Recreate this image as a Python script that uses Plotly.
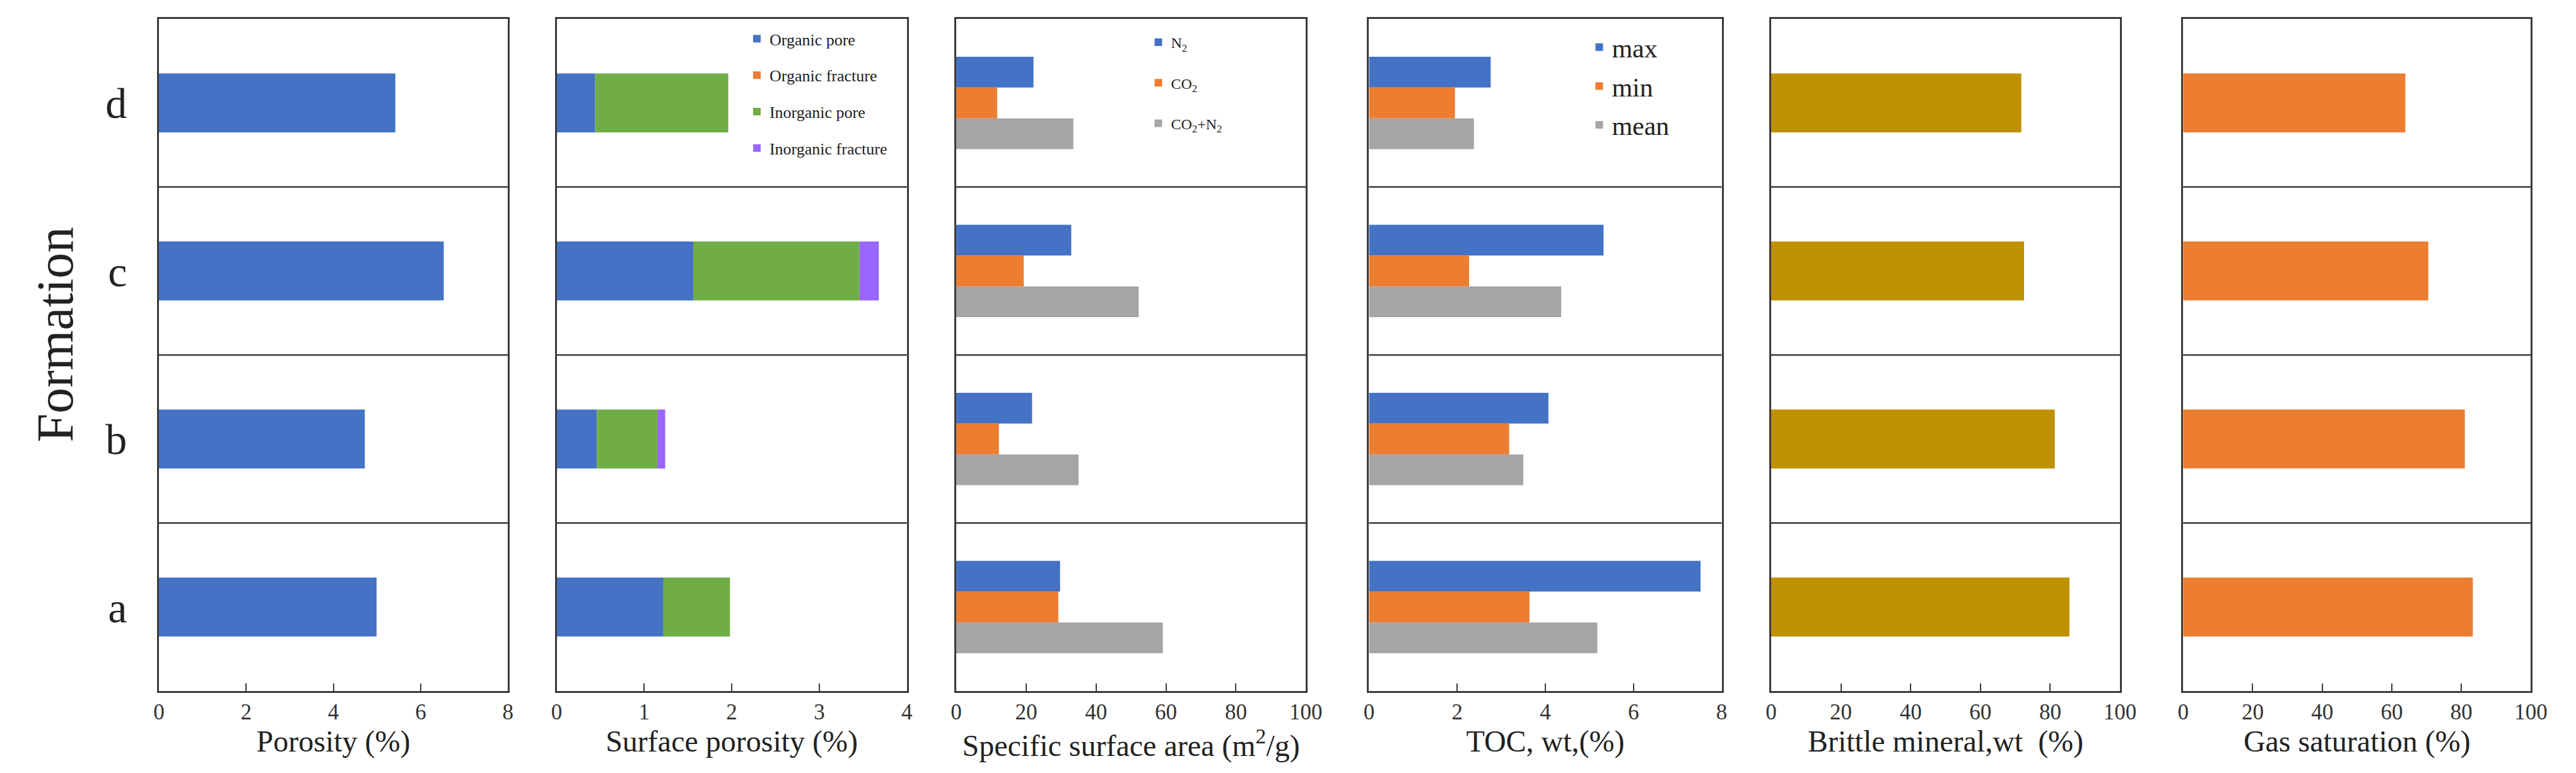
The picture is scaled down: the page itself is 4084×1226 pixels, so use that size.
import numpy as np
import plotly.graph_objects as go

# formations, bottom to top
formations = ['a', 'b', 'c', 'd']

porosity = [4.99, 4.72, 6.53, 5.42]

organic_pore = [1.22, 0.46, 1.56, 0.44]
organic_fracture = [0.0, 0.0, 0.0, 0.0]
inorganic_pore = [0.76, 0.69, 1.90, 1.52]
inorganic_fracture = [0.0, 0.09, 0.22, 0.0]

ssa_n2 = [29.7, 21.7, 32.9, 22.1]
ssa_co2 = [29.2, 12.2, 19.3, 11.7]
ssa_co2_n2 = [59.1, 35.0, 52.2, 33.5]

toc_max = [7.52, 4.07, 5.32, 2.76]
toc_min = [3.64, 3.18, 2.27, 1.95]
toc_mean = [5.18, 3.50, 4.36, 2.38]

brittle = [85.5, 81.3, 72.5, 71.7]
gas_sat = [83.3, 81.0, 70.5, 63.9]

BLUE = '#4472C4'
ORANGE = '#ED7D31'
GRAY = '#A5A5A5'
GREEN = '#70AD47'
PURPLE = '#9966FF'
GOLD = '#BF9000'
LINE = '#3a3a3a'
FONT = 'Liberation Serif, Times New Roman, serif'

W, H = 4084, 1226
# panel edges in pixels (left, right)
panels_px = [(237, 795), (873, 1433), (1512, 2071), (2172, 2736), (2815, 3373), (3474, 4030)]
y_dom = [1 - 1088 / H, 1 - 22 / H]

x_titles = ['Porosity (%)', 'Surface porosity (%)', 'Specific surface area (m<sup>2</sup>/g)',
            'TOC, wt,(%)', 'Brittle mineral,wt \u00a0(%)', 'Gas saturation (%)']
x_ranges = [[0, 8], [0, 4], [0, 100], [0, 8], [0, 100], [0, 100]]
x_dticks = [2, 1, 20, 2, 20, 20]

fig = go.Figure()

# panel 1: porosity
fig.add_trace(go.Bar(y=formations, x=porosity, orientation='h', width=0.35,
                     marker=dict(color=BLUE, line_width=0), showlegend=False,
                     xaxis='x', yaxis='y'))

# panel 2: surface porosity, stacked by hand
sp_series = [('Organic pore', organic_pore, BLUE),
             ('Organic fracture', organic_fracture, ORANGE),
             ('Inorganic pore', inorganic_pore, GREEN),
             ('Inorganic fracture', inorganic_fracture, PURPLE)]
base = np.zeros(len(formations))
for name, vals, col in sp_series:
    fig.add_trace(go.Bar(y=formations, x=vals, base=base.copy(), orientation='h', width=0.35,
                         name=name, marker=dict(color=col, line_width=0),
                         legend='legend', legendgroup=name,
                         xaxis='x2', yaxis='y2'))
    base = base + np.array(vals)

# panel 3 and 4: grouped bars
bw = 0.183
offsets = [bw / 2, -bw / 2, -1.5 * bw]
ssa_series = [('N<sub>2</sub>', ssa_n2, BLUE),
              ('CO<sub>2</sub>', ssa_co2, ORANGE),
              ('CO<sub>2</sub>+N<sub>2</sub>', ssa_co2_n2, GRAY)]
for (name, vals, col), off in zip(ssa_series, offsets):
    fig.add_trace(go.Bar(y=formations, x=vals, orientation='h', width=bw, offset=off,
                         name=name, marker=dict(color=col, line_width=0),
                         legend='legend2', legendgroup='s' + name,
                         xaxis='x3', yaxis='y3'))

toc_series = [('max', toc_max, BLUE), ('min', toc_min, ORANGE), ('mean', toc_mean, GRAY)]
for (name, vals, col), off in zip(toc_series, offsets):
    fig.add_trace(go.Bar(y=formations, x=vals, orientation='h', width=bw, offset=off,
                         name=name, marker=dict(color=col, line_width=0),
                         legend='legend3', legendgroup='t' + name,
                         xaxis='x4', yaxis='y4'))

# panel 5 and 6
fig.add_trace(go.Bar(y=formations, x=brittle, orientation='h', width=0.35,
                     marker=dict(color=GOLD, line_width=0), showlegend=False,
                     xaxis='x5', yaxis='y5'))
fig.add_trace(go.Bar(y=formations, x=gas_sat, orientation='h', width=0.35,
                     marker=dict(color=ORANGE, line_width=0), showlegend=False,
                     xaxis='x6', yaxis='y6'))

layout = dict(width=W, height=H, margin=dict(l=0, r=0, t=0, b=0),
              paper_bgcolor='white', plot_bgcolor='white', barmode='overlay',
              font=dict(family=FONT, color='#222'))

shapes = []
for i, (l, r) in enumerate(panels_px):
    n = '' if i == 0 else str(i + 1)
    layout['xaxis' + n] = dict(
        domain=[l / W, r / W], anchor='y' + n, range=x_ranges[i], dtick=x_dticks[i],
        showgrid=False, zeroline=False, showline=True, mirror=True,
        linecolor=LINE, linewidth=3, ticks='inside', ticklen=12, tickwidth=2,
        tickcolor=LINE, tickfont=dict(size=35, family=FONT, color='#333'),
        title=dict(text=x_titles[i], font=dict(size=48, family=FONT, color='#222'), standoff=2),
    )
    layout['yaxis' + n] = dict(
        domain=y_dom, anchor='x' + n, type='category', categoryorder='array',
        categoryarray=formations, range=[-0.5, 3.5], showgrid=False, zeroline=False,
        showline=True, mirror=True, linecolor=LINE, linewidth=3, ticks='',
        showticklabels=(i == 0), tickfont=dict(size=68, family=FONT, color='#222'),
        ticklabelstandoff=34,
    )
    for k in range(len(formations) - 1):
        shapes.append(dict(type='line', xref='x' + n + ' domain', yref='y' + n,
                           x0=0, x1=1, y0=k + 0.5, y1=k + 0.5,
                           line=dict(color=LINE, width=2.5)))

layout['shapes'] = shapes
layout['legend'] = dict(x=1173 / W, y=1 - 30 / H, xanchor='left', yanchor='top',
                        font=dict(size=26, family=FONT, color='#222'),
                        bgcolor='rgba(0,0,0,0)', tracegroupgap=21, traceorder='grouped')
layout['legend2'] = dict(x=1815 / W, y=1 - 37 / H, xanchor='left', yanchor='top',
                         font=dict(size=24, family=FONT, color='#222'),
                         bgcolor='rgba(0,0,0,0)', tracegroupgap=30, traceorder='grouped')
layout['legend3'] = dict(x=2520 / W, y=1 - 33 / H, xanchor='left', yanchor='top',
                         font=dict(size=42, family=FONT, color='#222'),
                         bgcolor='rgba(0,0,0,0)', tracegroupgap=4, traceorder='grouped')
layout['annotations'] = [dict(text='Formation', x=72 / W, y=1 - 522 / H, xref='paper', yref='paper',
                              xanchor='center', yanchor='middle',
                              textangle=-90, showarrow=False, font=dict(size=82, family=FONT, color='#222'))]

fig.update_layout(**layout)
fig.write_html('out.html')
